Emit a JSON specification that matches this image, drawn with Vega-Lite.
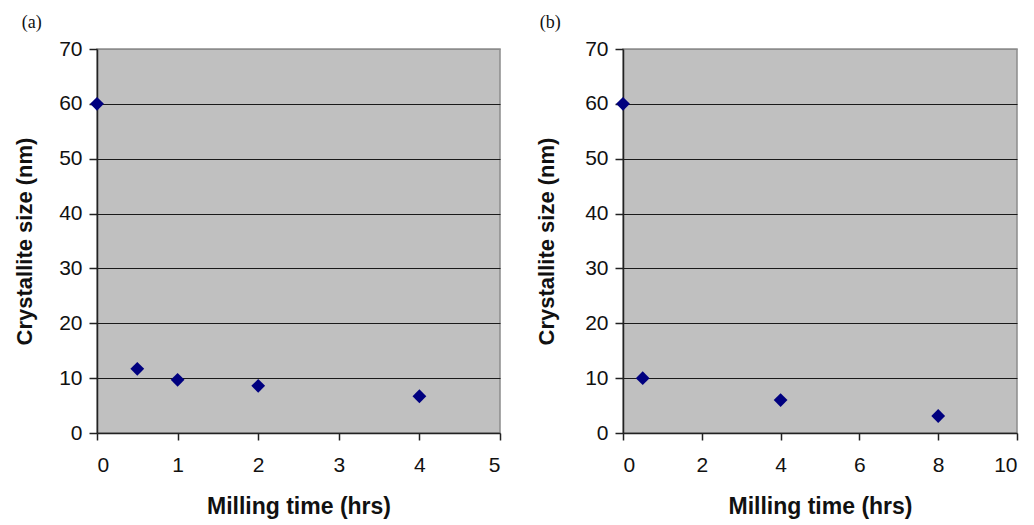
{
  "$schema": "https://vega.github.io/schema/vega-lite/v6.json",
  "background": "white",
  "padding": {"left": 12, "top": 13, "right": 2, "bottom": 2},
  "spacing": 32,
  "config": {
    "font": "Liberation Sans",
    "view": {"fill": "#c0c0c0", "stroke": "#8c8c8c", "strokeWidth": 1.5},
    "axis": {
      "labelFont": "Liberation Sans",
      "labelFontSize": 21,
      "labelColor": "#111",
      "titleFont": "Liberation Sans",
      "titleFontSize": 22,
      "titleFontWeight": "bold",
      "titleColor": "#111",
      "domainColor": "#222",
      "domainWidth": 1.5,
      "tickColor": "#222",
      "tickWidth": 1.5
    },
    "title": {
      "font": "Liberation Serif",
      "fontSize": 18,
      "fontWeight": "normal",
      "color": "#111",
      "anchor": "start",
      "frame": "bounds"
    }
  },
  "datasets": {
    "a": [
      {"time": 0, "size": 60},
      {"time": 0.5, "size": 11.7},
      {"time": 1, "size": 9.7},
      {"time": 2, "size": 8.6},
      {"time": 4, "size": 6.7}
    ],
    "b": [
      {"time": 0, "size": 60},
      {"time": 0.5, "size": 10},
      {"time": 4, "size": 6},
      {"time": 8, "size": 3.1}
    ]
  },
  "hconcat": [
    {
      "title": {"text": "(a)", "dx": 8, "offset": 6},
      "width": 403,
      "height": 384,
      "data": {"name": "a"},
      "mark": {"type": "point", "shape": "diamond", "filled": true, "size": 190, "color": "#00007f", "opacity": 1, "clip": false},
      "encoding": {
        "x": {
          "field": "time",
          "type": "quantitative",
          "title": "Milling time (hrs)",
          "scale": {"domain": [0, 5], "nice": false, "zero": true},
          "axis": {"values": [0, 1, 2, 3, 4, 5], "grid": false, "tickSize": 7, "labelPadding": 14, "titlePadding": 20, "titleFontSize": 23}
        },
        "y": {
          "field": "size",
          "type": "quantitative",
          "title": "Crystallite size (nm)",
          "scale": {"domain": [0, 70], "nice": false},
          "axis": {
            "values": [0, 10, 20, 30, 40, 50, 60, 70],
            "grid": true,
            "gridColor": {"condition": {"test": "datum.value == 70 || datum.value == 0", "value": "#8c8c8c"}, "value": "#1a1a1a"},
            "gridWidth": 1.2,
            "tickSize": 8,
            "labelPadding": 7,
            "titlePadding": 22
          }
        }
      }
    },
    {
      "title": {"text": "(b)", "dx": 4, "offset": 6},
      "width": 394,
      "height": 384,
      "data": {"name": "b"},
      "mark": {"type": "point", "shape": "diamond", "filled": true, "size": 190, "color": "#00007f", "opacity": 1, "clip": false},
      "encoding": {
        "x": {
          "field": "time",
          "type": "quantitative",
          "title": "Milling time (hrs)",
          "scale": {"domain": [0, 10], "nice": false, "zero": true},
          "axis": {"values": [0, 2, 4, 6, 8, 10], "grid": false, "tickSize": 7, "labelPadding": 14, "titlePadding": 20, "titleFontSize": 23}
        },
        "y": {
          "field": "size",
          "type": "quantitative",
          "title": "Crystallite size (nm)",
          "scale": {"domain": [0, 70], "nice": false},
          "axis": {
            "values": [0, 10, 20, 30, 40, 50, 60, 70],
            "grid": true,
            "gridColor": {"condition": {"test": "datum.value == 70 || datum.value == 0", "value": "#8c8c8c"}, "value": "#1a1a1a"},
            "gridWidth": 1.2,
            "tickSize": 8,
            "labelPadding": 7,
            "titlePadding": 26
          }
        }
      }
    }
  ]
}
